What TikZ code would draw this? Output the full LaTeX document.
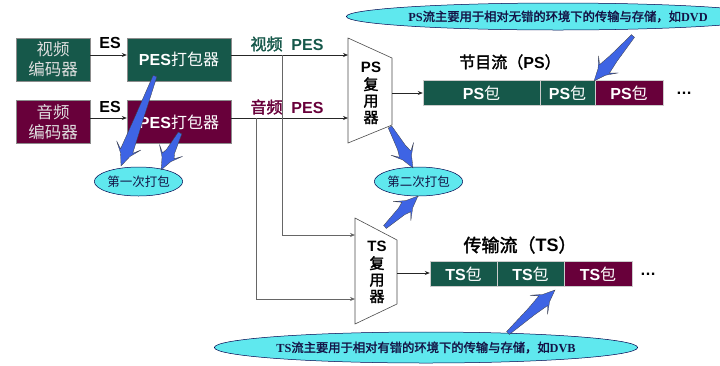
\documentclass[tikz,border=0pt]{standalone}
\usepackage{fontspec}
\setmainfont{Liberation Sans}
\newfontfamily\cjk{Noto Sans CJK SC}
\newfontfamily\cjkb{Noto Sans CJK SC}[FakeBold=2]
\newfontfamily\serifb{Liberation Serif}
\usetikzlibrary{shapes.geometric,arrows.meta,calc}
\definecolor{pgreen}{RGB}{22,88,74}
\definecolor{pmaroon}{RGB}{104,0,58}
\definecolor{pcyan}{RGB}{95,232,238}
\definecolor{pblue}{RGB}{62,100,228}
\definecolor{etext}{RGB}{20,20,70}
\newcommand{\zh}[1]{{\cjk #1}}
\newcommand{\zhb}[1]{{\cjkb #1}}
\newcommand{\callout}[2]{%
  \filldraw[callarrow]
    ($(#1)!2pt!90:(#2)$) --
    ($ ($(#1)!0.5!(#2)$)!4.5pt!90:(#2) $) --
    ($ ($(#2)!16pt!(#1)$)!6.5pt!-90:(#1) $) --
    ($ ($(#2)!22pt!(#1)$)!13pt!-90:(#1) $) --
    ($ ($(#2)!12pt!(#1)$)!5pt!-90:(#1) $) --
    (#2) --
    ($ ($(#2)!12pt!(#1)$)!5pt!90:(#1) $) --
    ($ ($(#2)!22pt!(#1)$)!13pt!90:(#1) $) --
    ($ ($(#2)!16pt!(#1)$)!6.5pt!90:(#1) $) --
    ($ ($(#1)!0.5!(#2)$)!4.5pt!-90:(#2) $) --
    ($(#1)!2pt!-90:(#2)$) -- cycle;}
\begin{document}
\begin{tikzpicture}[x=1pt,y=-1pt,
  box/.style={draw=black!45, line width=0.4pt, inner sep=0pt, align=center, text=white},
  enc/.style={box, minimum width=74, minimum height=43, text=white!88!black, font=\fontsize{16.5}{20}\selectfont},
  packer/.style={box, minimum width=104, minimum height=43, font=\fontsize{16}{19}\selectfont},
  pkt/.style={box, draw=white!80!black, minimum height=25, font=\fontsize{16}{19}\selectfont},
  ln/.style={draw=black!85, line width=0.7pt},
  arr/.style={ln, -{Stealth[length=5pt,width=4pt]}},
  mux/.style={draw=black!70, line width=0.6pt, fill=white},
  muxtxt/.style={align=center, inner sep=0pt, font=\fontsize{15}{16.5}\selectfont},
  lbl/.style={inner sep=0pt, font=\fontsize{16}{19}\selectfont},
  ell/.style={ellipse, draw=black!70!blue, line width=0.5pt, fill=pcyan, inner sep=0pt, text=etext},
  callarrow/.style={fill=pblue, draw=black!75, line width=0.3pt, line join=miter}]
\useasboundingbox (0,0) rectangle (720,365);

% encoders and packers
\node[enc, fill=pgreen] (venc) at (53,59.5) {\zh{视频}\\\zh{编码器}};
\node[enc, fill=pmaroon] (aenc) at (53,122) {\zh{音频}\\\zh{编码器}};
\node[packer, fill=pgreen] (vpes) at (179,59.5) {\textbf{PES}\zh{打包器}};
\node[packer, fill=pmaroon] (apes) at (179,122) {\textbf{PES}\zh{打包器}};
\draw[arr] ([yshift=4.5pt]venc.east) -- ([yshift=4.5pt]vpes.west);
\draw[arr] ([yshift=4pt]aenc.east) -- ([yshift=4pt]apes.west);
\node[lbl] (es1) at (110,43) {\textbf{ES}};
\node[lbl] (es2) at (110,107) {\textbf{ES}};
\node[lbl, text=pgreen] (vlab) at (287,44) {\zhb{视频}\ \ \textbf{PES}};
\node[lbl, text=pmaroon] (alab) at (287,107) {\zhb{音频}\ \ \textbf{PES}};

% PS multiplexer
\coordinate (psin1) at (348,55);
\coordinate (psin2) at (348,118);
\coordinate (psout) at (392,93);
\draw[mux] (348,38) -- (392,58) -- (392,125) -- (348,143) -- cycle;
\node[muxtxt] (pstxt) at (371,93) {\textbf{PS}\\[1pt]\zhb{复}\\\zhb{用}\\\zhb{器}};
\draw[arr] ([yshift=4.5pt]vpes.east) -- (psin1);
\draw[arr] ([yshift=4pt]apes.east) -- (psin2);

% TS multiplexer
\coordinate (br1) at (282,55);
\coordinate (br2) at (256,118);
\coordinate (tsin1) at (355,235);
\coordinate (tsin2) at (355,299);
\coordinate (tsout) at (397,273);
\draw[arr, draw=black!60] (br1) |- (tsin1);
\draw[arr, draw=black!60] (br2) |- (tsin2);
\draw[mux] (355,218) -- (397,240) -- (397,304) -- (355,324) -- cycle;
\node[muxtxt] (tstxt) at (377,272) {\textbf{TS}\\[1pt]\zhb{复}\\\zhb{用}\\\zhb{器}};

% PS stream
\node[pkt, fill=pgreen, minimum width=117] (ps1) at (481.5,93) {\textbf{PS}\zh{包}};
\node[pkt, fill=pgreen, minimum width=55] (ps2) at (567.5,93) {\textbf{PS}\zh{包}};
\node[pkt, fill=pmaroon, minimum width=68] (ps3) at (629,93) {\textbf{PS}\zh{包}};
\node[lbl] (psdots) at (684,93) {\textbf{…}};
\node[lbl] (pstitle) at (510,62) {\zhb{节目流（}\textbf{PS}\zhb{）}};
\draw[arr] (psout) -- (ps1.west);

% TS stream
\node[pkt, fill=pgreen, minimum width=67] (ts1) at (463.5,274) {\textbf{TS}\zh{包}};
\node[pkt, fill=pgreen, minimum width=67] (ts2) at (530.5,274) {\textbf{TS}\zh{包}};
\node[pkt, fill=pmaroon, minimum width=68] (ts3) at (598,274) {\textbf{TS}\zh{包}};
\node[lbl] (tsdots) at (648,274) {\textbf{…}};
\node[lbl, font=\fontsize{18}{20}\selectfont] (tstitle) at (520,245) {\zhb{传输流（}\textbf{TS}\zhb{）}};
\draw[arr] (tsout) -- (ts1.west |- tsout);

% ellipses
\node[ell, minimum width=313, minimum height=27, font=\fontsize{12.3}{14}\selectfont] (psnote) at (558,16.5)
  {{\serifb\bfseries PS}\zhb{流主要用于相对无错的环境下的传输与存储，如}{\serifb\bfseries DVD}};
\node[ell, minimum width=317, minimum height=31, font=\fontsize{12.3}{14}\selectfont] (tsnote) at (426,347.5)
  {{\serifb\bfseries TS}\zhb{流主要用于相对有错的环境下的传输与存储，如}{\serifb\bfseries DVB}};
\node[ell, minimum width=67, minimum height=29, font=\fontsize{12.5}{14}\selectfont] (pack1) at (138.5,181.5) {\zh{第一次打包}};
\node[ell, minimum width=67, minimum height=29, font=\fontsize{12.5}{14}\selectfont] (pack2) at (418.5,181.5) {\zh{第二次打包}};

% callout arrows
\coordinate (c1s) at (155,76);  \coordinate (c1e) at (121,166);
\coordinate (c2s) at (180,133); \coordinate (c2e) at (161,170);
\coordinate (c3s) at (390,127); \coordinate (c3e) at (413,168);
\coordinate (c4s) at (385,227); \coordinate (c4e) at (418,196);
\coordinate (c5s) at (633,36);  \coordinate (c5e) at (594,81);
\coordinate (c6s) at (508,333); \coordinate (c6e) at (555,290);
\callout{c1s}{c1e}
\callout{c2s}{c2e}
\callout{c3s}{c3e}
\callout{c4s}{c4e}
\callout{c5s}{c5e}
\callout{c6s}{c6e}
\end{tikzpicture}
\end{document}
